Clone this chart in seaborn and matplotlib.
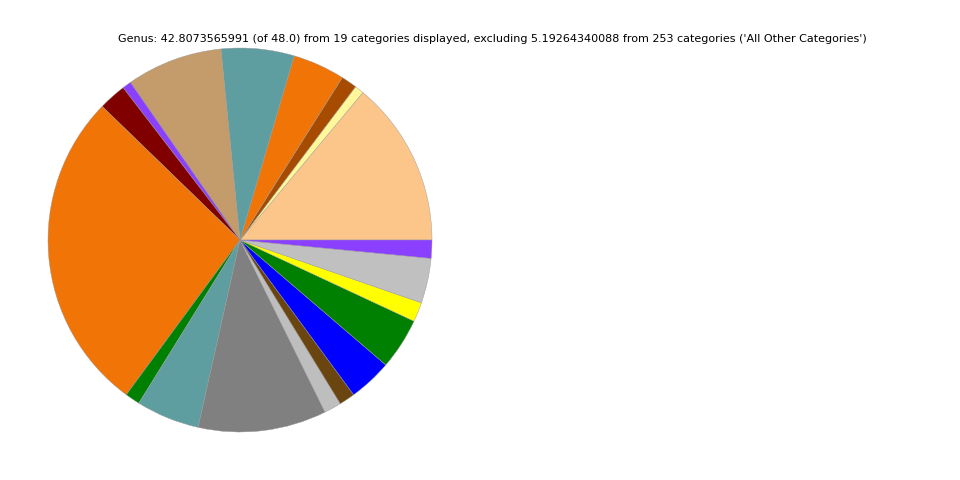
import matplotlib
matplotlib.use('Agg')
import matplotlib.pyplot as plt
import seaborn as sns

sns.set_style('white')

# slice values (counterclockwise from east)
genus_values = [5.969, 0.333, 0.571, 1.879, 2.628, 3.460, 0.321, 0.999, 11.629,
                0.535, 2.283, 4.626, 0.618, 0.571, 1.558, 1.855, 0.702, 1.617, 0.654]
genus_colors = ['#FCC68A', '#FFF799', '#A64B00', '#F07406', '#5F9EA0', '#C49C6B',
                '#8C40FF', '#800000', '#F07406', '#008000', '#5F9EA0', '#808080',
                '#BEBEBE', '#6B4510', '#0000FF', '#008000', '#FFFF00', '#C0C0C0',
                '#8C40FF']
title_text = ("Genus: 42.8073565991 (of 48.0) from 19 categories displayed, "
              "excluding 5.19264340088 from 253 categories ('All Other Categories')")

fig = plt.figure(figsize = (9.6, 4.8), dpi = 100)
ax = fig.add_axes([48 / 960, 48 / 480, 384 / 960, 384 / 480])
ax.pie(genus_values, colors = genus_colors, startangle = 0, counterclock = True,
       wedgeprops = {'edgecolor': '#999999', 'linewidth': 0.3})
ax.set_xlim(-1.0, 1.0)
ax.set_ylim(-1.0, 1.0)
ax.set_aspect('equal')
ax.axis('off')

fig.text(492 / 960, 1 - 39 / 480, title_text, ha = 'center', va = 'center',
         fontsize = 8, color = 'black')

fig.savefig('out.png', dpi = 100)
plt.close(fig)
